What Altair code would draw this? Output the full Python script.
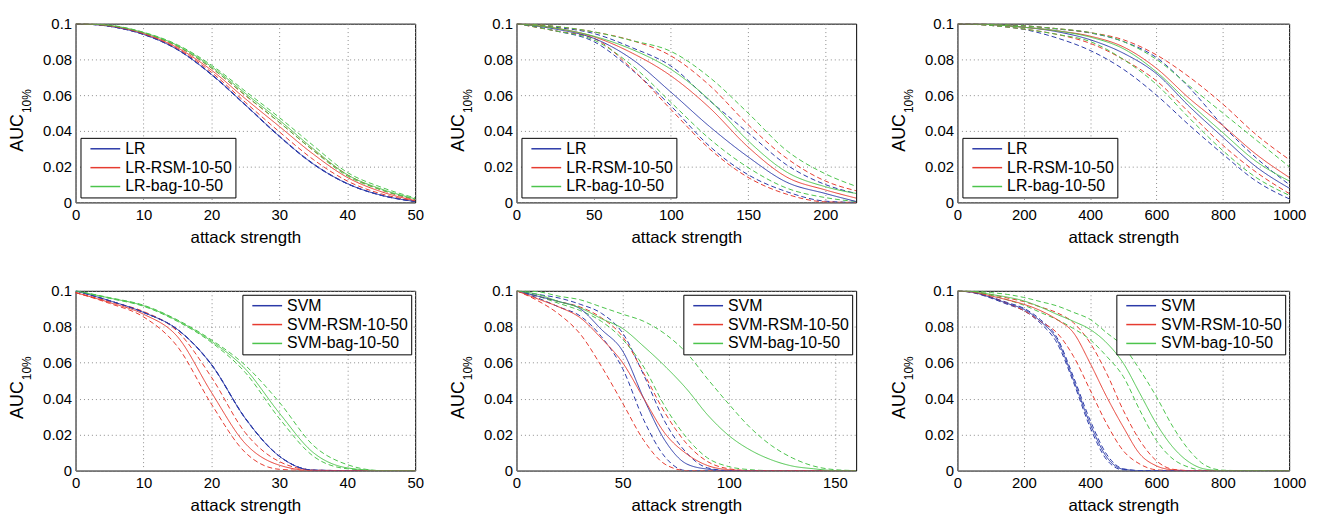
import altair as alt
import pandas as pd

FONT = "Liberation Sans"
BLUE = "#2b3aa8"
RED = "#e63b30"
GREEN = "#4cc44c"
YTICKS = [0, 0.02, 0.04, 0.06, 0.08, 0.1]

LR_LABELS = ["LR", "LR-RSM-10-50", "LR-bag-10-50"]
SVM_LABELS = ["SVM", "SVM-RSM-10-50", "SVM-bag-10-50"]

# ---------------- panel 1 : LR, attack strength 0..50 ----------------
P1_X = [0, 5, 10, 15, 20, 25, 30, 35, 40, 45, 50]
P1_LR = [0.100, 0.0985, 0.0940, 0.0855, 0.0716, 0.0545, 0.0370, 0.0215, 0.0105, 0.0040, 0.0005]
P1_LR_HI = [0.100, 0.0985, 0.0941, 0.0856, 0.0718, 0.0547, 0.0372, 0.0217, 0.0106, 0.0041, 0.0005]
P1_LR_LO = [0.100, 0.0985, 0.0939, 0.0854, 0.0714, 0.0543, 0.0368, 0.0213, 0.0104, 0.0039, 0.0005]
P1_RSM = [0.100, 0.0988, 0.0945, 0.0865, 0.0740, 0.0580, 0.0425, 0.0270, 0.0140, 0.0060, 0.0010]
P1_RSM_HI = [0.100, 0.0989, 0.0948, 0.0872, 0.0752, 0.0598, 0.0448, 0.0292, 0.0155, 0.0070, 0.0015]
P1_RSM_LO = [0.100, 0.0987, 0.0942, 0.0860, 0.0728, 0.0560, 0.0395, 0.0240, 0.0120, 0.0048, 0.0008]
P1_BAG = [0.100, 0.0990, 0.0950, 0.0878, 0.0760, 0.0610, 0.0460, 0.0300, 0.0155, 0.0075, 0.0020]
P1_BAG_HI = [0.100, 0.0991, 0.0952, 0.0882, 0.0768, 0.0622, 0.0475, 0.0318, 0.0168, 0.0085, 0.0025]
P1_BAG_LO = [0.100, 0.0989, 0.0948, 0.0874, 0.0752, 0.0600, 0.0448, 0.0290, 0.0148, 0.0070, 0.0018]

# ---------------- panel 2 : LR, attack strength 0..220 ----------------
P2_X = [0, 25, 50, 75, 100, 125, 150, 175, 200, 220]
P2_LR = [0.100, 0.097, 0.0918, 0.080, 0.0617, 0.0425, 0.0255, 0.0113, 0.005, 0.0005]
P2_LR_HI = [0.100, 0.098, 0.0945, 0.0865, 0.0763, 0.057, 0.039, 0.021, 0.010, 0.005]
P2_LR_LO = [0.100, 0.096, 0.090, 0.074, 0.054, 0.0315, 0.0155, 0.006, 0.0007, 0.0]
P2_RSM = [0.100, 0.0975, 0.0927, 0.0835, 0.0708, 0.053, 0.031, 0.0142, 0.007, 0.0024]
P2_RSM_HI = [0.100, 0.0985, 0.0954, 0.0905, 0.082, 0.0655, 0.0435, 0.0247, 0.012, 0.0065]
P2_RSM_LO = [0.100, 0.096, 0.0918, 0.0745, 0.052, 0.030, 0.014, 0.0046, 0.0003, 0.0]
P2_BAG = [0.100, 0.0975, 0.093, 0.0855, 0.0745, 0.0573, 0.0345, 0.017, 0.0088, 0.005]
P2_BAG_HI = [0.100, 0.0985, 0.0954, 0.0905, 0.0845, 0.070, 0.050, 0.029, 0.016, 0.009]
P2_BAG_LO = [0.100, 0.096, 0.0909, 0.0765, 0.056, 0.0356, 0.0195, 0.008, 0.0027, 0.0005]

# ---------------- panel 3 : LR, attack strength 0..1000 ----------------
P3_X = [0, 100, 200, 300, 400, 500, 600, 700, 800, 900, 1000]
P3_LR = [0.100, 0.0995, 0.098, 0.0955, 0.091, 0.0835, 0.072, 0.0535, 0.0365, 0.020, 0.008]
P3_LR_HI = [0.100, 0.0997, 0.0988, 0.097, 0.0948, 0.090, 0.081, 0.064, 0.043, 0.025, 0.010]
P3_LR_LO = [0.100, 0.099, 0.0968, 0.092, 0.085, 0.0745, 0.060, 0.043, 0.027, 0.012, 0.002]
P3_RSM = [0.100, 0.0995, 0.098, 0.096, 0.093, 0.087, 0.075, 0.058, 0.043, 0.027, 0.014]
P3_RSM_HI = [0.100, 0.0997, 0.0988, 0.0972, 0.095, 0.091, 0.0825, 0.070, 0.055, 0.038, 0.024]
P3_RSM_LO = [0.100, 0.099, 0.097, 0.094, 0.089, 0.080, 0.068, 0.050, 0.032, 0.017, 0.005]
P3_BAG = [0.100, 0.0995, 0.098, 0.096, 0.0925, 0.086, 0.073, 0.0555, 0.039, 0.023, 0.012]
P3_BAG_HI = [0.100, 0.0997, 0.0988, 0.0972, 0.095, 0.090, 0.080, 0.065, 0.050, 0.035, 0.020]
P3_BAG_LO = [0.100, 0.099, 0.097, 0.094, 0.090, 0.080, 0.066, 0.047, 0.029, 0.014, 0.004]

# ---------------- panel 4 : SVM, attack strength 0..50 ----------------
P4_X = [0, 5, 10, 15, 20, 25, 30, 35, 40, 45, 50]
P4_SVM = [0.100, 0.0945, 0.088, 0.0785, 0.059, 0.029, 0.008, 0.0002, 0, 0, 0]
P4_SVM_HI = [0.100, 0.0945, 0.088, 0.0786, 0.0592, 0.0292, 0.0081, 0.0002, 0, 0, 0]
P4_SVM_LO = [0.100, 0.0945, 0.088, 0.0784, 0.0588, 0.0288, 0.0079, 0.0002, 0, 0, 0]
P4_RSM = [0.099, 0.0935, 0.087, 0.0745, 0.0435, 0.015, 0.003, 0, 0, 0, 0]
P4_RSM_HI = [0.099, 0.094, 0.0885, 0.0775, 0.052, 0.021, 0.005, 0.0003, 0, 0, 0]
P4_RSM_LO = [0.099, 0.093, 0.0855, 0.069, 0.037, 0.010, 0.0007, 0, 0, 0, 0]
P4_BAG = [0.100, 0.096, 0.0917, 0.0834, 0.072, 0.0565, 0.032, 0.010, 0.0015, 0, 0]
P4_BAG_HI = [0.100, 0.0962, 0.092, 0.0838, 0.0727, 0.0585, 0.038, 0.014, 0.0033, 0, 0]
P4_BAG_LO = [0.100, 0.0958, 0.0914, 0.083, 0.0713, 0.0545, 0.029, 0.008, 0.001, 0, 0]

# ---------------- panel 5 : SVM, attack strength 0..160 ----------------
P5_X = [0, 10, 20, 30, 40, 50, 60, 70, 80, 90, 100, 110, 120, 130, 140, 150, 160]
P5_SVM = [0.100, 0.097, 0.094, 0.090, 0.0785, 0.0665, 0.040, 0.0166, 0.0038, 0.0008, 0, 0, 0, 0, 0, 0, 0]
P5_SVM_HI = [0.100, 0.098, 0.096, 0.0925, 0.0875, 0.0765, 0.053, 0.027, 0.010, 0.0015, 0, 0, 0, 0, 0, 0, 0]
P5_SVM_LO = [0.100, 0.096, 0.091, 0.086, 0.0745, 0.0567, 0.028, 0.0075, 0, 0, 0, 0, 0, 0, 0, 0, 0]
P5_RSM = [0.100, 0.0955, 0.091, 0.085, 0.0735, 0.060, 0.040, 0.0206, 0.0094, 0.0028, 0.0005, 0, 0, 0, 0, 0, 0]
P5_RSM_HI = [0.100, 0.097, 0.094, 0.091, 0.085, 0.0745, 0.054, 0.032, 0.0152, 0.005, 0.001, 0, 0, 0, 0, 0, 0]
P5_RSM_LO = [0.100, 0.0945, 0.087, 0.076, 0.058, 0.0375, 0.0167, 0.0035, 0, 0, 0, 0, 0, 0, 0, 0, 0]
P5_BAG = [0.100, 0.098, 0.094, 0.0905, 0.0845, 0.079, 0.069, 0.058, 0.0456, 0.031, 0.0195, 0.0115, 0.006, 0.0025, 0.001, 0, 0]
P5_BAG_HI = [0.100, 0.0995, 0.097, 0.095, 0.091, 0.087, 0.083, 0.076, 0.0656, 0.051, 0.037, 0.024, 0.014, 0.007, 0.0025, 0.0005, 0]
P5_BAG_LO = [0.100, 0.097, 0.093, 0.089, 0.083, 0.073, 0.0575, 0.0355, 0.0185, 0.007, 0.0022, 0.0005, 0, 0, 0, 0, 0]

# ---------------- panel 6 : SVM, attack strength 0..1000 ----------------
P6_X = [0, 50, 100, 150, 200, 250, 300, 350, 400, 450, 500, 550, 600, 650, 700, 750, 800, 850, 900, 950, 1000]
P6_SVM = [0.100, 0.099, 0.0963, 0.093, 0.0897, 0.0831, 0.0728, 0.0504, 0.026, 0.0075, 0.0007, 0, 0, 0, 0, 0, 0, 0, 0, 0, 0]
P6_SVM_HI = [0.100, 0.0992, 0.0966, 0.0935, 0.0903, 0.084, 0.074, 0.052, 0.028, 0.009, 0.001, 0, 0, 0, 0, 0, 0, 0, 0, 0, 0]
P6_SVM_LO = [0.100, 0.0988, 0.096, 0.0925, 0.089, 0.082, 0.071, 0.049, 0.024, 0.006, 0.0003, 0, 0, 0, 0, 0, 0, 0, 0, 0, 0]
P6_RSM = [0.100, 0.0992, 0.0972, 0.095, 0.0925, 0.089, 0.084, 0.0766, 0.0597, 0.041, 0.0242, 0.0092, 0.0026, 0.0004, 0, 0, 0, 0, 0, 0, 0]
P6_RSM_HI = [0.100, 0.0995, 0.098, 0.096, 0.094, 0.091, 0.0878, 0.0822, 0.071, 0.054, 0.0335, 0.0167, 0.0054, 0.0007, 0, 0, 0, 0, 0, 0, 0]
P6_RSM_LO = [0.100, 0.099, 0.0965, 0.093, 0.089, 0.083, 0.0766, 0.0635, 0.0448, 0.026, 0.011, 0.0036, 0.0004, 0, 0, 0, 0, 0, 0, 0, 0]
P6_BAG = [0.100, 0.0995, 0.098, 0.0965, 0.0944, 0.091, 0.0869, 0.083, 0.0785, 0.071, 0.0597, 0.0429, 0.026, 0.0129, 0.0045, 0.0007, 0, 0, 0, 0, 0]
P6_BAG_HI = [0.100, 0.0998, 0.099, 0.098, 0.0963, 0.094, 0.0916, 0.088, 0.0841, 0.0766, 0.069, 0.056, 0.041, 0.0242, 0.011, 0.0026, 0.0002, 0, 0, 0, 0]
P6_BAG_LO = [0.100, 0.0993, 0.0975, 0.095, 0.092, 0.088, 0.084, 0.079, 0.0728, 0.0635, 0.0523, 0.0335, 0.0167, 0.0064, 0.0017, 0, 0, 0, 0, 0, 0]


def make_panel(xs, series, labels, xdomain, xticks, width, height, orient, offset):
    rows = []
    # dashed bounds first, solid means afterwards (drawn on top)
    for kind, idx in (("hi", 1), ("lo", 2), ("mean", 0)):
        for label, trio in zip(labels, series):
            for xv, yv in zip(xs, trio[idx]):
                rows.append({"x": xv, "y": yv, "series": label, "kind": kind})
    df = pd.DataFrame(rows)

    lines = alt.Chart(df).mark_line(strokeWidth=1, interpolate="monotone", clip=True).encode(
        x=alt.X("x:Q",
                scale=alt.Scale(domain=xdomain, nice=False, zero=False),
                axis=alt.Axis(values=xticks, title="attack strength", format="d",
                              labelFlush=False)),
        y=alt.Y("y:Q",
                scale=alt.Scale(domain=[0, 0.1], nice=False),
                axis=alt.Axis(values=YTICKS, format="~g", title=None)),
        color=alt.Color("series:N",
                        scale=alt.Scale(domain=labels, range=[BLUE, RED, GREEN]),
                        legend=alt.Legend(title=None, orient=orient, offset=offset)),
        strokeDash=alt.StrokeDash("kind:N",
                                  scale=alt.Scale(domain=["mean", "hi", "lo"],
                                                  range=[[1, 0], [5, 3], [5, 3]]),
                                  legend=None),
    )

    auc = alt.Chart(pd.DataFrame({"t": ["AUC"]})).mark_text(
        angle=270, align="left", baseline="middle", fontSize=18, font=FONT, color="black"
    ).encode(x=alt.value(-58), y=alt.value(129), text="t:N")
    sub = alt.Chart(pd.DataFrame({"t": ["10%"]})).mark_text(
        angle=270, align="left", baseline="middle", fontSize=12, font=FONT, color="black"
    ).encode(x=alt.value(-49), y=alt.value(90), text="t:N")

    return alt.layer(lines, auc, sub).properties(width=width, height=height)


p1 = make_panel(P1_X, [(P1_LR, P1_LR_HI, P1_LR_LO), (P1_RSM, P1_RSM_HI, P1_RSM_LO),
                       (P1_BAG, P1_BAG_HI, P1_BAG_LO)],
                LR_LABELS, [0, 50], [0, 10, 20, 30, 40, 50], 342, 180, "bottom-left", 5)
p2 = make_panel(P2_X, [(P2_LR, P2_LR_HI, P2_LR_LO), (P2_RSM, P2_RSM_HI, P2_RSM_LO),
                       (P2_BAG, P2_BAG_HI, P2_BAG_LO)],
                LR_LABELS, [0, 220], [0, 50, 100, 150, 200], 342, 180, "bottom-left", 5)
p3 = make_panel(P3_X, [(P3_LR, P3_LR_HI, P3_LR_LO), (P3_RSM, P3_RSM_HI, P3_RSM_LO),
                       (P3_BAG, P3_BAG_HI, P3_BAG_LO)],
                LR_LABELS, [0, 1000], [0, 200, 400, 600, 800, 1000], 334, 180, "bottom-left", 5)
p4 = make_panel(P4_X, [(P4_SVM, P4_SVM_HI, P4_SVM_LO), (P4_RSM, P4_RSM_HI, P4_RSM_LO),
                       (P4_BAG, P4_BAG_HI, P4_BAG_LO)],
                SVM_LABELS, [0, 50], [0, 10, 20, 30, 40, 50], 342, 181, "top-right", 4)
p5 = make_panel(P5_X, [(P5_SVM, P5_SVM_HI, P5_SVM_LO), (P5_RSM, P5_RSM_HI, P5_RSM_LO),
                       (P5_BAG, P5_BAG_HI, P5_BAG_LO)],
                SVM_LABELS, [0, 160], [0, 50, 100, 150], 342, 181, "top-right", 4)
p6 = make_panel(P6_X, [(P6_SVM, P6_SVM_HI, P6_SVM_LO), (P6_RSM, P6_RSM_HI, P6_RSM_LO),
                       (P6_BAG, P6_BAG_HI, P6_BAG_LO)],
                SVM_LABELS, [0, 1000], [0, 200, 400, 600, 800, 1000], 334, 181, "top-right", 4)

row1 = alt.hconcat(p1, p2, p3, spacing=102, bounds="flush").resolve_scale(
    color="independent", strokeDash="independent", x="independent", y="independent")
row2 = alt.hconcat(p4, p5, p6, spacing=102, bounds="flush").resolve_scale(
    color="independent", strokeDash="independent", x="independent", y="independent")

chart = alt.vconcat(row1, row2, spacing=37).resolve_scale(
    color="independent", strokeDash="independent", x="independent", y="independent"
).properties(
    padding={"left": 0, "top": 6, "right": 5, "bottom": 0},
    background="white",
).configure_view(
    stroke="black", strokeWidth=1, fill="white"
).configure_axis(
    labelFont=FONT, labelFontSize=15, labelColor="black",
    titleFont=FONT, titleFontSize=17, titleFontWeight="normal", titleColor="black",
    domain=False, ticks=False, tickSize=0, labelPadding=5,
    grid=True, gridColor="#8c8c8c", gridDash=[1, 3], gridWidth=1, gridOpacity=1,
).configure_axisX(
    titlePadding=7,
).configure_axisY(
    labelPadding=4,
).configure_legend(
    labelFont=FONT, labelFontSize=16, labelColor="black",
    symbolType="M-3,0H3", symbolSize=100, symbolStrokeWidth=1.5,
    strokeColor="black", fillColor="white", padding=3, rowPadding=3,
    labelOffset=12, symbolOffset=14, cornerRadius=0,
)

chart.save("out.html", embed_options={"renderer": "svg", "actions": False})
